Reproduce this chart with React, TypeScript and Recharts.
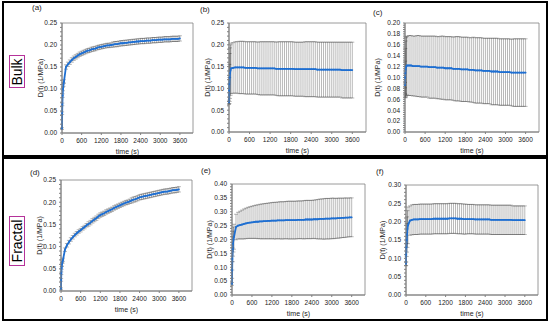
import React from "react";
import { ComposedChart, Line, ErrorBar, XAxis, YAxis, Label, ReferenceArea } from "recharts";

// sampling times (s): dense first minute, then every 60 s
const TIME = [
  0, 5, 10, 20, 30, 45, 60,
  120, 180, 240, 300, 360, 420, 480, 540, 600,
  660, 720, 780, 840, 900, 960, 1020, 1080, 1140, 1200,
  1260, 1320, 1380, 1440, 1500, 1560, 1620, 1680, 1740, 1800,
  1860, 1920, 1980, 2040, 2100, 2160, 2220, 2280, 2340, 2400,
  2460, 2520, 2580, 2640, 2700, 2760, 2820, 2880, 2940, 3000,
  3060, 3120, 3180, 3240, 3300, 3360, 3420, 3480, 3540, 3600,
];
const X_TICKS = [0, 600, 1200, 1800, 2400, 3000, 3600];

// (a) bulk
const A_MEAN = [
  0.010, 0.045, 0.065, 0.085, 0.100, 0.110, 0.117,
  0.150, 0.156, 0.161, 0.166, 0.170, 0.173, 0.176, 0.179, 0.181,
  0.183, 0.185, 0.187, 0.188, 0.190, 0.191, 0.192, 0.194, 0.195, 0.196,
  0.197, 0.198, 0.199, 0.199, 0.200, 0.201, 0.202, 0.202, 0.203, 0.204,
  0.204, 0.205, 0.205, 0.206, 0.206, 0.207, 0.207, 0.208, 0.208, 0.209,
  0.209, 0.209, 0.210, 0.210, 0.210, 0.211, 0.211, 0.211, 0.212, 0.212,
  0.212, 0.213, 0.213, 0.213, 0.213, 0.214, 0.214, 0.214, 0.214, 0.215,
];
const A_ERR = [
  0.002, 0.003, 0.003, 0.004, 0.004, 0.004, 0.004,
  0.005, 0.005, 0.005, 0.005, 0.005, 0.005, 0.005, 0.005, 0.005,
  0.005, 0.005, 0.005, 0.005, 0.005, 0.005, 0.005, 0.005, 0.005, 0.005,
  0.005, 0.005, 0.005, 0.005, 0.005, 0.006, 0.006, 0.006, 0.006, 0.006,
  0.006, 0.006, 0.006, 0.006, 0.006, 0.006, 0.006, 0.006, 0.006, 0.006,
  0.006, 0.006, 0.006, 0.006, 0.006, 0.006, 0.006, 0.006, 0.006, 0.006,
  0.006, 0.006, 0.006, 0.006, 0.006, 0.006, 0.006, 0.006, 0.006, 0.006,
];

// (b) bulk
const B_MEAN = [
  0.068, 0.095, 0.110, 0.125, 0.135, 0.142, 0.146,
  0.147, 0.148, 0.148, 0.148, 0.148, 0.148, 0.147, 0.147, 0.147,
  0.147, 0.147, 0.147, 0.146, 0.146, 0.146, 0.146, 0.146, 0.146, 0.146,
  0.146, 0.146, 0.145, 0.145, 0.145, 0.145, 0.145, 0.145, 0.145, 0.145,
  0.145, 0.144, 0.144, 0.144, 0.144, 0.144, 0.144, 0.144, 0.144, 0.144,
  0.144, 0.144, 0.143, 0.143, 0.143, 0.143, 0.143, 0.143, 0.143, 0.143,
  0.143, 0.143, 0.143, 0.143, 0.142, 0.142, 0.142, 0.142, 0.142, 0.142,
];
const B_ERR = [
  0.005, 0.030, 0.045, 0.055, 0.058, 0.058, 0.058,
  0.058, 0.059, 0.059, 0.060, 0.060, 0.060, 0.060, 0.060, 0.060,
  0.060, 0.060, 0.060, 0.060, 0.061, 0.061, 0.061, 0.061, 0.061, 0.061,
  0.061, 0.061, 0.061, 0.062, 0.062, 0.062, 0.062, 0.062, 0.062, 0.062,
  0.062, 0.062, 0.062, 0.062, 0.062, 0.062, 0.063, 0.063, 0.063, 0.063,
  0.063, 0.063, 0.063, 0.063, 0.063, 0.063, 0.063, 0.063, 0.063, 0.063,
  0.063, 0.063, 0.063, 0.063, 0.064, 0.064, 0.064, 0.064, 0.064, 0.064,
];

// (c) bulk
const C_MEAN = [
  0.086, 0.100, 0.108, 0.115, 0.119, 0.121, 0.122,
  0.122, 0.122, 0.121, 0.121, 0.121, 0.121, 0.120, 0.120, 0.120,
  0.120, 0.119, 0.119, 0.119, 0.119, 0.118, 0.118, 0.118, 0.118, 0.117,
  0.117, 0.117, 0.117, 0.116, 0.116, 0.116, 0.116, 0.115, 0.115, 0.115,
  0.115, 0.114, 0.114, 0.114, 0.113, 0.113, 0.113, 0.113, 0.112, 0.112,
  0.112, 0.112, 0.111, 0.111, 0.111, 0.111, 0.110, 0.110, 0.110, 0.110,
  0.110, 0.110, 0.109, 0.109, 0.109, 0.109, 0.109, 0.109, 0.109, 0.109,
];
const C_ERR = [
  0.005, 0.030, 0.045, 0.052, 0.054, 0.054, 0.054,
  0.055, 0.055, 0.055, 0.055, 0.056, 0.056, 0.056, 0.056, 0.056,
  0.056, 0.057, 0.057, 0.057, 0.057, 0.057, 0.057, 0.058, 0.058, 0.058,
  0.058, 0.058, 0.058, 0.058, 0.059, 0.059, 0.059, 0.059, 0.059, 0.059,
  0.059, 0.059, 0.059, 0.060, 0.060, 0.060, 0.060, 0.060, 0.060, 0.060,
  0.060, 0.060, 0.061, 0.061, 0.061, 0.061, 0.061, 0.061, 0.061, 0.061,
  0.061, 0.061, 0.061, 0.062, 0.062, 0.062, 0.062, 0.062, 0.062, 0.062,
];

// (d) fractal
const D_MEAN = [
  0.005, 0.025, 0.040, 0.052, 0.060, 0.066, 0.070,
  0.093, 0.103, 0.110, 0.116, 0.121, 0.126, 0.130, 0.134, 0.137,
  0.141, 0.144, 0.148, 0.151, 0.154, 0.158, 0.161, 0.164, 0.168, 0.171,
  0.173, 0.175, 0.178, 0.180, 0.182, 0.184, 0.187, 0.189, 0.191, 0.193,
  0.195, 0.197, 0.199, 0.200, 0.202, 0.204, 0.206, 0.207, 0.209, 0.211,
  0.212, 0.213, 0.214, 0.215, 0.216, 0.217, 0.218, 0.219, 0.220, 0.221,
  0.222, 0.223, 0.224, 0.224, 0.225, 0.226, 0.227, 0.227, 0.228, 0.229,
];
const D_ERR = [
  0.002, 0.003, 0.003, 0.003, 0.004, 0.004, 0.004,
  0.004, 0.004, 0.004, 0.004, 0.004, 0.004, 0.004, 0.004, 0.004,
  0.004, 0.004, 0.004, 0.005, 0.005, 0.005, 0.005, 0.005, 0.005, 0.005,
  0.005, 0.005, 0.005, 0.005, 0.005, 0.005, 0.005, 0.005, 0.005, 0.005,
  0.005, 0.005, 0.005, 0.005, 0.005, 0.006, 0.006, 0.006, 0.006, 0.006,
  0.006, 0.006, 0.006, 0.006, 0.006, 0.006, 0.006, 0.006, 0.006, 0.006,
  0.006, 0.006, 0.006, 0.006, 0.006, 0.006, 0.006, 0.006, 0.006, 0.006,
];

// (e) fractal
const E_MEAN = [
  0.040, 0.090, 0.130, 0.165, 0.185, 0.200, 0.210,
  0.245, 0.250, 0.252, 0.254, 0.256, 0.258, 0.260, 0.261, 0.262,
  0.263, 0.264, 0.264, 0.265, 0.265, 0.266, 0.266, 0.267, 0.267, 0.268,
  0.268, 0.268, 0.269, 0.269, 0.269, 0.269, 0.270, 0.270, 0.270, 0.270,
  0.270, 0.270, 0.271, 0.271, 0.271, 0.271, 0.272, 0.272, 0.272, 0.272,
  0.273, 0.273, 0.273, 0.274, 0.274, 0.274, 0.275, 0.275, 0.275, 0.276,
  0.276, 0.276, 0.277, 0.277, 0.278, 0.278, 0.279, 0.279, 0.280, 0.280,
];
const E_ERR = [
  0.005, 0.030, 0.040, 0.045, 0.045, 0.045, 0.045,
  0.046, 0.048, 0.050, 0.052, 0.054, 0.055, 0.056, 0.057, 0.058,
  0.059, 0.060, 0.061, 0.062, 0.063, 0.063, 0.064, 0.064, 0.065, 0.065,
  0.066, 0.066, 0.066, 0.067, 0.067, 0.067, 0.067, 0.068, 0.068, 0.068,
  0.068, 0.068, 0.068, 0.068, 0.068, 0.069, 0.069, 0.069, 0.069, 0.069,
  0.069, 0.070, 0.071, 0.072, 0.072, 0.073, 0.073, 0.073, 0.073, 0.073,
  0.073, 0.072, 0.072, 0.072, 0.071, 0.071, 0.071, 0.070, 0.070, 0.070,
];

// (f) fractal
const F_MEAN = [
  0.085, 0.110, 0.130, 0.150, 0.165, 0.180, 0.190,
  0.203, 0.205, 0.206, 0.206, 0.206, 0.207, 0.207, 0.207, 0.207,
  0.207, 0.207, 0.207, 0.208, 0.208, 0.208, 0.208, 0.208, 0.208, 0.208,
  0.208, 0.209, 0.209, 0.209, 0.209, 0.208, 0.208, 0.208, 0.207, 0.207,
  0.207, 0.207, 0.207, 0.207, 0.206, 0.206, 0.206, 0.206, 0.206, 0.206,
  0.206, 0.206, 0.205, 0.205, 0.205, 0.205, 0.205, 0.205, 0.205, 0.205,
  0.205, 0.205, 0.205, 0.204, 0.204, 0.204, 0.204, 0.204, 0.204, 0.204,
];
const F_ERR = [
  0.005, 0.030, 0.040, 0.045, 0.048, 0.050, 0.050,
  0.040, 0.041, 0.041, 0.041, 0.041, 0.041, 0.041, 0.041, 0.041,
  0.041, 0.041, 0.041, 0.041, 0.041, 0.041, 0.041, 0.041, 0.041, 0.041,
  0.041, 0.041, 0.041, 0.041, 0.041, 0.041, 0.041, 0.041, 0.041, 0.041,
  0.040, 0.040, 0.040, 0.040, 0.040, 0.040, 0.040, 0.040, 0.040, 0.040,
  0.040, 0.040, 0.040, 0.040, 0.040, 0.040, 0.040, 0.040, 0.040, 0.040,
  0.040, 0.040, 0.040, 0.039, 0.039, 0.039, 0.039, 0.039, 0.039, 0.039,
];

const Y_TICKS_25 = [0, 0.05, 0.1, 0.15, 0.2, 0.25];
const Y_TICKS_20 = [0, 0.02, 0.04, 0.06, 0.08, 0.1, 0.12, 0.14, 0.16, 0.18, 0.2];
const Y_TICKS_40 = [0, 0.05, 0.1, 0.15, 0.2, 0.25, 0.3, 0.35, 0.4];
const Y_TICKS_30 = [0, 0.05, 0.1, 0.15, 0.2, 0.25, 0.3];

const BLUE = "#1f6fd1";
const AXIS = "#808080";
const TEXT = "#222";
const FONT = "'Liberation Sans', Arial, sans-serif";

type PanelProps = {
  tag: string;
  tagX: number;
  tagY: number;
  x: number;
  y: number;
  w: number;
  h: number;
  mean: number[];
  err: number[];
  yTicks: number[];
  labelDx: number;
};

function Panel(p: PanelProps) {
  const AXW = 40;
  const TOP = 4;
  const RIGHT = 4;
  const XH = 26;
  const data = TIME.map((t, i) => ({ t, y: p.mean[i], e: p.err[i] }));
  const ymax = p.yTicks[p.yTicks.length - 1];
  const step = p.yTicks[1] - p.yTicks[0];
  // minor ticks: 5 per major interval
  const minor: number[] = [];
  p.yTicks.forEach((v, i) => {
    if (i === p.yTicks.length - 1) minor.push(v);
    else for (let k = 0; k < 5; k++) minor.push(v + (k * step) / 5);
  });
  const isMajor = (v: number) => p.yTicks.some((m) => Math.abs(m - v) < 1e-9);

  return (
    <>
      <div
        style={{
          position: "absolute",
          left: p.tagX,
          top: p.tagY,
          fontSize: 8,
          fontFamily: FONT,
          color: TEXT,
          lineHeight: "10px",
        }}
      >
        {p.tag}
      </div>
      <div style={{ position: "absolute", left: p.x - AXW, top: p.y - TOP }}>
        <ComposedChart
          width={AXW + p.w + RIGHT}
          height={TOP + p.h + XH}
          data={data}
          margin={{ top: TOP, right: RIGHT, left: 0, bottom: 0 }}
        >
          <ReferenceArea
            x1={0}
            x2={4000}
            y1={0}
            y2={ymax}
            fill="none"
            stroke={AXIS}
            strokeWidth={0.8}
            ifOverflow="visible"
          />
          <XAxis
            type="number"
            dataKey="t"
            domain={[0, 4000]}
            ticks={X_TICKS}
            interval={0}
            height={XH}
            stroke={AXIS}
            tickSize={2}
            tickMargin={3}
            tick={{ fontSize: 6.5, fill: TEXT, stroke: "none", fontFamily: FONT }}
          >
            <Label
              content={(props: any) => {
                const vb = props.viewBox;
                return (
                  <text
                    x={vb.x + vb.width / 2}
                    y={vb.y + 18}
                    textAnchor="middle"
                    dominantBaseline="central"
                    fontSize={7}
                    fontFamily={FONT}
                    fill={TEXT}
                  >
                    time (s)
                  </text>
                );
              }}
            />
          </XAxis>
          <YAxis
            type="number"
            domain={[0, ymax]}
            ticks={minor}
            interval={0}
            width={AXW}
            stroke={AXIS}
            tickSize={2}
            tickMargin={3}
            tick={{ fontSize: 6.5, fill: TEXT, stroke: "none", fontFamily: FONT }}
            tickFormatter={(v: number) => (isMajor(v) ? v.toFixed(2) : "")}
          >
            <Label
              content={(props: any) => {
                const vb = props.viewBox;
                const lx = vb.x + vb.width - p.labelDx;
                const ly = vb.y + vb.height / 2;
                return (
                  <text
                    x={lx}
                    y={ly}
                    transform={`rotate(-90, ${lx}, ${ly})`}
                    textAnchor="middle"
                    dominantBaseline="central"
                    fontSize={7}
                    fontFamily={FONT}
                    fill={TEXT}
                  >
                    D(t) (1/MPa)
                  </text>
                );
              }}
            />
          </YAxis>
          <Line dataKey="y" stroke="none" dot={false} isAnimationActive={false}>
            <ErrorBar
              dataKey="e"
              direction="y"
              width={2}
              stroke="#000"
              strokeOpacity={0.4}
              strokeWidth={0.7}
              isAnimationActive={false}
            />
          </Line>
          <Line
            dataKey="y"
            stroke={BLUE}
            strokeWidth={1.8}
            dot={{ r: 0.9, fill: BLUE, stroke: BLUE, strokeWidth: 0 }}
            isAnimationActive={false}
          />
        </ComposedChart>
      </div>
    </>
  );
}

function GroupTag({ text, x, y, w, h }: { text: string; x: number; y: number; w: number; h: number }) {
  return (
    <div
      style={{
        position: "absolute",
        left: x,
        top: y,
        width: w,
        height: h,
        boxSizing: "border-box",
        border: "1.5px solid #b5329a",
        display: "flex",
        alignItems: "center",
        justifyContent: "center",
      }}
    >
      <span
        style={{
          transform: "rotate(-90deg)",
          whiteSpace: "nowrap",
          fontSize: 14,
          fontFamily: FONT,
          color: "#000",
        }}
      >
        {text}
      </span>
    </div>
  );
}

export default function App() {
  return (
    <div
      style={{
        position: "absolute",
        left: 0,
        top: 0,
        width: 550,
        height: 323,
        background: "#fff",
        overflow: "hidden",
      }}
    >
      <div
        style={{
          position: "absolute",
          left: 2,
          top: 1,
          width: 546,
          height: 156,
          border: "2px solid #000",
          boxSizing: "border-box",
        }}
      />
      <div
        style={{
          position: "absolute",
          left: 2,
          top: 157,
          width: 546,
          height: 164,
          border: "2px solid #000",
          boxSizing: "border-box",
        }}
      />
      <GroupTag text="Bulk" x={9} y={55} w={16} h={33} />
      <GroupTag text="Fractal" x={9} y={216} w={16} h={50} />

      <Panel tag="(a)" tagX={32} tagY={3} x={62} y={23} w={131} h={110} mean={A_MEAN} err={A_ERR} yTicks={Y_TICKS_25} labelDx={22} />
      <Panel tag="(b)" tagX={200} tagY={5} x={229} y={23} w={137} h={109} mean={B_MEAN} err={B_ERR} yTicks={Y_TICKS_25} labelDx={22} />
      <Panel tag="(c)" tagX={373} tagY={8} x={405} y={23} w={134} h={109} mean={C_MEAN} err={C_ERR} yTicks={Y_TICKS_20} labelDx={28} />
      <Panel tag="(d)" tagX={30} tagY={168} x={61} y={180} w={131} h={111} mean={D_MEAN} err={D_ERR} yTicks={Y_TICKS_25} labelDx={22} />
      <Panel tag="(e)" tagX={201} tagY={166} x={232} y={184} w={133} h={111} mean={E_MEAN} err={E_ERR} yTicks={Y_TICKS_40} labelDx={23} />
      <Panel tag="(f)" tagX={376} tagY={167} x={406} y={185} w={132} h={110} mean={F_MEAN} err={F_ERR} yTicks={Y_TICKS_30} labelDx={24} />
    </div>
  );
}
